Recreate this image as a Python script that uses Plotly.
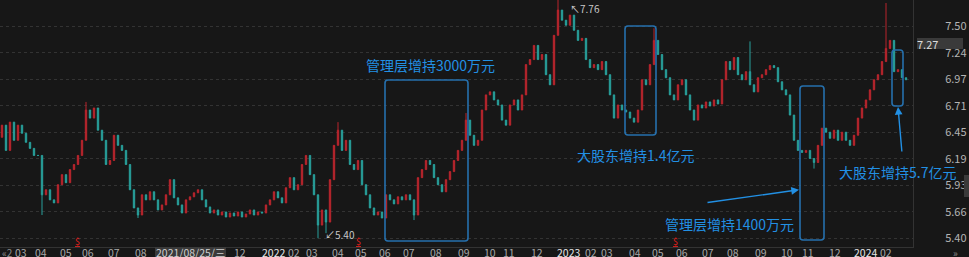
import plotly.graph_objects as go

# ---------------- data ----------------
closes = [
    6.52, 6.27, 6.55, 6.37, 6.52, 6.44, 6.35, 6.29, 6.22, 6.22,
    5.83, 5.88, 5.78, 5.75, 5.93, 6.03, 5.95, 6.08, 6.13, 6.22,
    6.37, 6.67, 6.59, 6.69, 6.47, 6.37, 6.13, 6.17, 6.42, 6.32,
    6.27, 6.13, 5.88, 5.70, 5.63, 5.83, 5.78, 5.86, 5.78, 5.68,
    5.73, 5.83, 5.98, 5.80, 5.73, 5.65, 5.78, 5.81, 5.85, 5.88,
    5.78, 5.71, 5.65, 5.68, 5.63, 5.66, 5.61, 5.65, 5.62, 5.66,
    5.61, 5.64, 5.68, 5.63, 5.66, 5.65, 5.73, 5.78, 5.86, 5.80,
    5.75, 5.90, 6.00, 5.88, 5.93, 6.13, 6.22, 6.03, 5.83, 5.53,
    5.68, 5.56, 5.98, 6.32, 6.47, 6.27, 6.37, 6.13, 6.08, 6.17,
    5.93, 5.83, 5.70, 5.63, 5.66, 5.60, 5.83, 5.78, 5.74, 5.81,
    5.78, 5.83, 5.78, 5.63, 6.00, 6.08, 6.17, 6.13, 6.00, 5.93,
    5.86, 5.98, 6.06, 6.17, 6.27, 6.37, 6.57, 6.42, 6.32, 6.37,
    6.67, 6.82, 6.85, 6.77, 6.72, 6.57, 6.52, 6.72, 6.77, 6.67,
    6.82, 7.12, 7.17, 7.31, 7.17, 7.22, 7.02, 6.92, 7.41, 7.66,
    7.56, 7.51, 7.61, 7.46, 7.36, 7.38, 7.17, 7.09, 7.12, 7.07,
    7.15, 7.02, 6.82, 6.59, 6.72, 6.67, 6.65, 6.59, 6.55, 6.67,
    6.97, 6.92, 7.12, 7.36, 7.22, 7.07, 6.99, 6.82, 6.77, 6.92,
    6.97, 6.82, 6.67, 6.57, 6.72, 6.69, 6.75, 6.71, 6.77, 6.73,
    6.97, 7.15, 7.07, 7.19, 7.02, 6.97, 7.05, 6.92, 6.85, 6.99,
    7.02, 7.07, 7.11, 7.09, 6.95, 6.87, 6.82, 6.62, 6.37, 6.27,
    6.25, 6.27, 6.19, 6.15, 6.32, 6.49, 6.45, 6.39, 6.47, 6.37,
    6.45, 6.37, 6.32, 6.42, 6.59, 6.69, 6.77, 6.87, 6.97, 7.02,
    7.15, 7.28, 7.36, 7.05, 7.07, 6.99, 6.97,
]
first_open = 6.40
spike_high = {21: 6.75, 84: 6.55, 116: 6.64, 139: 7.76, 163: 7.48, 187: 7.35, 221: 7.73}
spike_low = {10: 5.63, 34: 5.60, 79: 5.40, 81: 5.45, 103: 5.58, 203: 6.09}

y_ticks = [5.40, 5.662, 5.924, 6.187, 6.449, 6.711, 6.973, 7.236, 7.498, 7.76]
y_tick_text = ["5.40", "5.66", "5.93", "6.19", "6.45", "6.71", "6.97", "7.24", "7.50", "7.76"]

month_labels = ["03", "04", "05", "06", "07", "08", "12", "2022", "02", "03", "04", "05", "06",
                "07", "08", "09", "10", "11", "12", "2023", "02", "03", "04", "05", "06", "07",
                "08", "09", "10", "11", "12", "2024", "02"]
month_pos = [4.75, 9.7, 16, 21.5, 28, 34.75, 59.5, 67.75, 73, 77.5, 84, 89.75, 95.75,
             101.75, 108.5, 115.5, 122, 126.75, 133.75, 141.5, 147.25, 151.25, 158.25, 164, 170, 176.5,
             182.75, 189.75, 196.25, 201.5, 208.25, 215.75, 221]

# boxes: (start index, end index, low price, high price)
boxes = [(95.75, 116.5, 5.373, 6.968), (155.75, 163.5, 6.423, 7.502),
         (199.5, 205.5, 5.383, 6.908), (222.5, 225.25, 6.710, 7.265)]
notes = [("管理层增持3000万元", 107.0, 7.116), ("大股东增持1.4亿元", 158.25, 6.225),
         ("管理层增持1400万元", 181.9, 5.541), ("大股东增持5.7亿元", 223.9, 6.056)]
dividend_idx = [18.75, 89.0, 168.25]

# ---------------- build ----------------
n = len(closes)
idx = list(range(n))
opens = [first_open] + closes[:-1]
highs = [max(o, c, spike_high.get(i, 0)) for i, (o, c) in enumerate(zip(opens, closes))]
lows = [min(o, c, spike_low.get(i, 99)) for i, (o, c) in enumerate(zip(opens, closes))]

RED = "#b9252d"
TEAL = "#28a09c"
BLUE_T = "#2290e4"
BLUE_B = "#2670ad"
BG = "#171717"
FONT = "Noto Sans CJK SC"

fig = go.Figure(go.Candlestick(
    x=idx, open=opens, high=highs, low=lows, close=closes,
    increasing=dict(line=dict(color=RED, width=1), fillcolor=RED),
    decreasing=dict(line=dict(color=TEAL, width=1), fillcolor=TEAL),
    whiskerwidth=0, hoverinfo="skip", showlegend=False,
))

W, H = 969, 257
ML, MR, MT, MB = 0, 56, 0, 10
PW, PH = W - ML - MR, H - MT - MB
xr = [-0.5, 227.75]
yr = [5.313, 7.76]
kx = (xr[1] - xr[0]) / PW
ky = (yr[1] - yr[0]) / PH

shapes = []
r = 3
for (x0, x1, y0, y1) in boxes:
    rx, ry = r * kx, r * ky
    path = (f"M {x0+rx},{y1} L {x1-rx},{y1} Q {x1},{y1} {x1},{y1-ry} L {x1},{y0+ry} "
            f"Q {x1},{y0} {x1-rx},{y0} L {x0+rx},{y0} Q {x0},{y0} {x0},{y0+ry} "
            f"L {x0},{y1-ry} Q {x0},{y1} {x0+rx},{y1} Z")
    shapes.append(dict(type="path", path=path, xref="x", yref="y",
                       line=dict(color=BLUE_B, width=1.6)))
# scroll handle at right edge
shapes.append(dict(type="rect", xref="paper", yref="paper",
                   x0=(964 - ML) / PW, x1=(969 - ML) / PW, y0=1 - 197 / PH, y1=1 - 175 / PH,
                   fillcolor="#3a3a3a", line=dict(width=0)))
# current price box
shapes.append(dict(type="rect", xref="paper", yref="paper",
                   x0=(917 - ML) / PW, x1=(963 - ML) / PW, y0=1 - 49 / PH, y1=1 - 38 / PH,
                   fillcolor="#3a3a3a", line=dict(width=0), layer="above"))
# date box on the x axis
shapes.append(dict(type="rect", xref="paper", yref="paper",
                   x0=(155 - ML) / PW, x1=(226 - ML) / PW, y0=-10 / PH, y1=0,
                   fillcolor="#3a3a3a", line=dict(width=0)))

ann = []
for t, x, y in notes:
    ann.append(dict(x=x, y=y, xref="x", yref="y", text=t, showarrow=False,
                    font=dict(family=FONT, size=14, color=BLUE_T)))
# arrows
ann.append(dict(x=199.25, y=5.88, xref="x", yref="y", ax=-93, ay=13, text="",
                showarrow=True, arrowhead=2, arrowsize=1.1, arrowwidth=1.4, arrowcolor=BLUE_T))
ann.append(dict(x=224.0, y=6.70, xref="x", yref="y", ax=4, ay=46, text="",
                showarrow=True, arrowhead=2, arrowsize=1.1, arrowwidth=1.4, arrowcolor=BLUE_T))
# extreme labels
ann.append(dict(x=141.5, y=7.68, xref="x", yref="y", text="↖7.76", showarrow=False,
                xanchor="left", font=dict(family=FONT, size=10, color="#c8c8c8")))
ann.append(dict(x=80.3, y=5.44, xref="x", yref="y", text="↙5.40", showarrow=False,
                xanchor="left", font=dict(family=FONT, size=10, color="#c8c8c8")))
# dividend markers
for d in dividend_idx:
    ann.append(dict(x=d, y=5.372, xref="x", yref="y", text="<u>$</u>", showarrow=False,
                    font=dict(family=FONT, size=9, color="#e0201c")))
# x-axis labels
for lab, p in zip(month_labels, month_pos):
    year = len(lab) == 4
    ann.append(dict(x=p, y=0, xref="x", yref="paper", yanchor="middle", text=lab, showarrow=False,
                    yshift=-5, font=dict(family=FONT, size=10.5, color="#e6e6e6" if year else "#a8a8a8")))
ann.append(dict(x=47.1, y=0, xref="x", yref="paper", yanchor="middle", text="2021/08/25/三",
                showarrow=False, yshift=-5,
                font=dict(family=FONT, size=10.5, color="#d0d0d0")))
ann.append(dict(x=0.0, y=0, xref="paper", yref="paper", yanchor="middle", xanchor="left",
                text="«2", showarrow=False, yshift=-5,
                font=dict(family=FONT, size=10, color="#8a8a8a")))
ann.append(dict(x=(960 - ML) / PW, y=0, xref="paper", yref="paper", yanchor="middle",
                text="»", showarrow=False, yshift=-5, font=dict(family=FONT, size=10, color="#8a8a8a")))
# current price text
ann.append(dict(x=(940 - ML) / PW, y=1 - 43.5 / PH, xref="paper", yref="paper", text="7.27",
                showarrow=False, yanchor="middle",
                font=dict(family=FONT, size=11, color="#dcdcdc")))

fig.update_layout(
    width=W, height=H, margin=dict(l=ML, r=MR, t=MT, b=MB),
    paper_bgcolor=BG, plot_bgcolor=BG, boxgap=0.5,
    font=dict(family=FONT, color="#b0b0b0"),
    shapes=shapes, annotations=ann, showlegend=False,
    xaxis=dict(range=xr, rangeslider=dict(visible=False), showgrid=False, zeroline=False,
               showticklabels=False, showline=True, linecolor="#333333", linewidth=1,
               fixedrange=True),
    yaxis=dict(range=yr, side="right", tickvals=y_ticks, ticktext=y_tick_text,
               showgrid=True, gridcolor="#333333", griddash="dot", gridwidth=1,
               zeroline=False, showline=True, linecolor="#333333", linewidth=1,
               ticks="", ticklabelstandoff=29, tickfont=dict(family=FONT, size=11, color="#b4b4b4"),
               fixedrange=True),
)

fig.write_html("out.html")
